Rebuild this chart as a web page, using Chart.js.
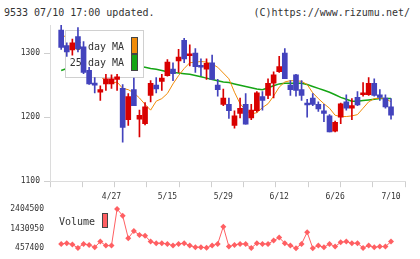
<!DOCTYPE html>
<html>
<head>
<meta charset="utf-8">
<script src="https://cdn.jsdelivr.net/npm/chart.js@4"></script>
<style>
body{margin:0;background:#fff;width:420px;height:259px;overflow:hidden;position:relative;font-family:'DejaVu Sans Mono',monospace;}
.hd{position:absolute;top:7px;font-size:10px;line-height:12px;color:#333;white-space:nowrap;}
#price{position:absolute;left:0;top:0;}
#vol{position:absolute;left:0;top:186px;}
</style>
</head>
<body>
<div class="hd" style="left:4px">9533 07/10 17:00 updated.</div>
<div class="hd" style="right:10px">(C)https://www.rizumu.net/</div>
<canvas id="price" width="420" height="190"></canvas>
<canvas id="vol" width="420" height="73"></canvas>
<script>
// trading days 2020/4/14 .. 7/10
const dates = ['4/14','4/15','4/16','4/17','4/20','4/21','4/22','4/23','4/24','4/27',
  '4/28','4/30','5/1','5/7','5/8','5/11','5/12','5/13','5/14','5/15',
  '5/18','5/19','5/20','5/21','5/22','5/25','5/26','5/27','5/28','5/29',
  '6/1','6/2','6/3','6/4','6/5','6/8','6/9','6/10','6/11','6/12',
  '6/15','6/16','6/17','6/18','6/19','6/22','6/23','6/24','6/25','6/26',
  '6/29','6/30','7/1','7/2','7/3','7/6','7/7','7/8','7/9','7/10'];
const labelIdx = [9, 19, 29, 39, 49, 59];

const opens  = [1336,1312,1305,1326,1310,1273,1251,1239,1252,1252, 1259,1245,1196,1243,1197,1190,1234,1250,1256,1265,
                1275,1288,1320,1296,1300,1280,1275,1285,1250,1220, 1220,1187,1206,1220,1199,1210,1232,1234,1253,1271,
                1300,1250,1266,1243,1221,1230,1220,1210,1202,1178, 1200,1224,1214,1231,1235,1235,1253,1235,1230,1216];
const closes = [1309,1302,1316,1307,1270,1252,1250,1243,1260,1260, 1263,1184,1232,1218,1203,1216,1253,1244,1261,1286,
                1268,1294,1291,1298,1279,1278,1284,1259,1243,1230, 1210,1202,1214,1189,1211,1238,1226,1253,1266,1279,
                1260,1243,1242,1234,1219,1220,1213,1206,1177,1192, 1221,1214,1218,1219,1237,1253,1234,1231,1216,1203];
const highs  = [1344,1316,1322,1340,1318,1278,1262,1249,1267,1266, 1267,1251,1237,1261,1211,1223,1257,1262,1267,1290,
                1285,1306,1323,1313,1307,1291,1291,1297,1259,1244, 1230,1210,1230,1237,1220,1240,1240,1260,1271,1295,
                1307,1257,1267,1257,1228,1237,1224,1220,1204,1194, 1222,1235,1229,1240,1254,1262,1260,1243,1235,1229];
const lows   = [1306,1295,1297,1302,1268,1251,1238,1226,1242,1245, 1242,1161,1187,1218,1169,1188,1224,1238,1242,1264,
                1257,1270,1285,1280,1270,1265,1259,1259,1233,1218, 1198,1183,1199,1189,1196,1208,1211,1229,1230,1270,
                1260,1234,1233,1226,1200,1218,1209,1193,1177,1177, 1190,1211,1196,1218,1233,1234,1233,1226,1214,1197];

const ma5  = [1330,1324,1318,1313,1301,1289,1279,1264,1256,1253, 1255,1245,1243,1238,1230,1220,1211,1225,1229,1237,
              1252,1265,1276,1285,1286,1287,1286,1283,1278,1269, 1260,1239,1221,1211,1205,1207,1215,1221,1233,1247,
              1255,1257,1257,1256,1251,1238,1229,1221,1214,1203, 1201,1201,1202,1204,1214,1224,1229,1230,1229,1224];
const ma25 = [1273,1276,1278,1280,1281,1282,1282,1282,1282,1281, 1281,1280,1280,1280,1279,1278,1276,1275,1273,1271,
              1270,1269,1268,1267,1265,1263,1261,1259,1257,1255, 1254,1252,1250,1248,1246,1244,1243,1246,1249,1252,
              1253,1253,1253,1253,1251,1248,1245,1242,1239,1235, 1231,1228,1225,1225,1226,1227,1228,1229,1229,1229];

const volume = [670000,705000,644000,470000,670000,620000,507000,784000,586000,586000,
                2404500,2073000,953000,1314000,1116000,1082000,784000,705000,705000,670000,
                586000,670000,705000,586000,507000,507000,475000,586000,670000,1528000,
                537000,620000,670000,670000,465000,705000,670000,670000,834000,983000,
                705000,586000,457400,670000,1250000,460000,586000,507000,670000,537000,
                755000,784000,705000,705000,470000,586000,507000,537000,537000,784000];

const priceTicks = [1100, 1200, 1300];
const volTicks = [457400, 1430950, 2404500];

const RED = '#d90000', BLUE = '#4343bd', ORANGE = '#f08c0a', GREEN = '#15a515', VOLC = '#ff5f62';
const xMin = -2, xMax = 61.5;

Chart.defaults.font.family = "'DejaVu Sans Mono', monospace";
Chart.defaults.font.size = 8;
Chart.defaults.color = '#333';

let candleColor = (i) => closes[i] >= opens[i] ? RED : BLUE;

const priceLegend = {
  id: 'priceLegend',
  beforeDatasetDraw(chart, args) {
    if (args.index !== 0) return;   // right before candles, after the MA lines
    const ctx = chart.ctx, a = chart.chartArea;
    const x = a.left + 15, y = a.top + 5;
    ctx.save();
    ctx.fillStyle = '#fff';
    ctx.fillRect(x, y, 78, 47);
    ctx.strokeStyle = '#d0d0d0';
    ctx.lineWidth = 1;
    ctx.strokeRect(x + 0.5, y + 0.5, 78, 47);
    ctx.font = "10px 'DejaVu Sans Mono'";
    ctx.textAlign = 'right';
    ctx.textBaseline = 'middle';
    [['5-day MA', ORANGE], ['25-day MA', GREEN]].forEach((it, k) => {
      ctx.fillStyle = '#333';
      ctx.fillText(it[0], x + 59, y + 17 + k * 16.5);
      ctx.fillStyle = it[1];
      ctx.fillRect(x + 66, y + 7 + k * 17, 6, 16);
      ctx.strokeStyle = '#444';
      ctx.strokeRect(x + 66.5, y + 7.5 + k * 17, 6, 16);
    });
    ctx.restore();
  }
};

new Chart(document.getElementById('price'), {
  type: 'bar',
  data: {
    datasets: [{
      label: 'wick',
      data: dates.map((d, i) => ({x: i, y: [lows[i], highs[i]]})),
      backgroundColor: dates.map((d, i) => candleColor(i)),
      barThickness: 1,
      grouped: false,
      order: 2
    }, {
      label: 'body',
      data: dates.map((d, i) => ({x: i, y: [opens[i], closes[i]]})),
      backgroundColor: dates.map((d, i) => candleColor(i)),
      barThickness: 5,
      minBarLength: 2,
      grouped: false,
      order: 1
    }, {
      type: 'line',
      label: '5-day MA',
      data: dates.map((d, i) => ({x: i, y: ma5[i]})),
      borderColor: ORANGE,
      borderWidth: 1,
      pointRadius: 0,
      order: 3
    }, {
      type: 'line',
      label: '25-day MA',
      data: dates.map((d, i) => ({x: i, y: ma25[i]})),
      borderColor: GREEN,
      borderWidth: 1.5,
      pointRadius: 0,
      order: 4
    }]
  },
  options: {
    responsive: false,
    animation: false,
    layout: {padding: {top: 25, right: 15, left: 0, bottom: 0}},
    plugins: {legend: {display: false}, tooltip: {enabled: false}},
    scales: {
      x: {
        type: 'linear', min: xMin, max: xMax, offset: false,
        afterBuildTicks: s => { s.ticks = Array.from({length: 12}, (_, k) => ({value: xMin + k * (xMax - xMin) / 11})); },
        afterFit: s => { s.height = 6; },
        ticks: {display: false},
        grid: {drawOnChartArea: false, offset: false, tickLength: 6, color: '#cfcfcf'},
        border: {color: '#dcdcdc'}
      },
      y: {
        min: 1100, max: 1344,
        afterBuildTicks: s => { s.ticks = priceTicks.map(v => ({value: v})); },
        afterFit: s => { s.width = 50; },
        ticks: {padding: 4, color: '#333', callback: v => String(v)},
        grid: {drawOnChartArea: false, tickLength: 6, color: '#cfcfcf'},
        border: {color: '#dcdcdc'}
      }
    }
  },
  plugins: [priceLegend]
});

const volLegend = {
  id: 'volLegend',
  beforeDatasetsDraw(chart) {
    const ctx = chart.ctx, a = chart.chartArea;
    ctx.save();
    ctx.font = "10px 'DejaVu Sans Mono'";
    ctx.textAlign = 'left';
    ctx.textBaseline = 'middle';
    ctx.fillStyle = '#333';
    ctx.fillText('Volume', a.left + 9, 36);
    ctx.fillStyle = VOLC;
    ctx.fillRect(a.left + 52, 27, 6, 15);
    ctx.strokeStyle = '#444';
    ctx.lineWidth = 1;
    ctx.strokeRect(a.left + 52.5, 27.5, 5, 14);
    ctx.restore();
  }
};

new Chart(document.getElementById('vol'), {
  type: 'line',
  data: {
    datasets: [{
      label: 'Volume',
      data: dates.map((d, i) => ({x: i, y: volume[i]})),
      borderColor: VOLC,
      backgroundColor: VOLC,
      borderWidth: 1,
      pointStyle: 'rectRot',
      pointRadius: 3,
      pointBorderWidth: 0,
      clip: false
    }]
  },
  options: {
    responsive: false,
    animation: false,
    layout: {padding: {top: 0, right: 15, left: 0, bottom: 10.7}},
    plugins: {legend: {display: false}, tooltip: {enabled: false}},
    scales: {
      x: {
        type: 'linear', position: 'top', min: xMin, max: xMax,
        afterBuildTicks: s => { s.ticks = labelIdx.map(v => ({value: v})); },
        afterFit: s => { s.height = 23; },
        ticks: {padding: 7, maxRotation: 0, autoSkip: false, callback: v => dates[v]},
        grid: {display: false, drawTicks: false},
        border: {display: false}
      },
      y: {
        min: 457400, max: 2404500,
        afterBuildTicks: s => { s.ticks = volTicks.map(v => ({value: v})); },
        afterFit: s => { s.width = 50; },
        ticks: {padding: 6, callback: v => String(v)},
        grid: {display: false, drawTicks: false},
        border: {display: false}
      }
    }
  },
  plugins: [volLegend]
});
</script>
</body>
</html>
